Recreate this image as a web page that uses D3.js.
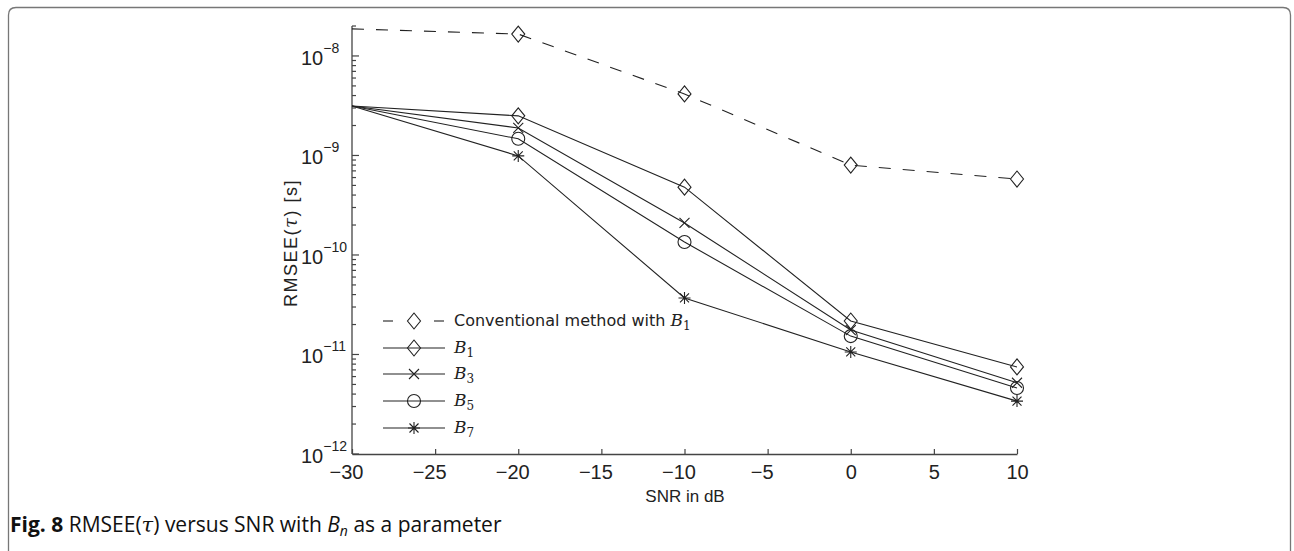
<!DOCTYPE html>
<html>
<head>
<meta charset="utf-8">
<script src="https://cdn.jsdelivr.net/npm/d3@7"></script>
<style>
  body { margin: 0; background: #fff; }
  svg { display: block; }
</style>
</head>
<body>
<div id="chart"></div>
<script>
// SNR points (dB)
const snr = [-30, -20, -10, 0, 10];

// RMSEE(tau) in seconds
const conventionalB1 = [1.87e-8, 1.66e-8, 4.15e-9, 8.0e-10, 5.8e-10];
const seriesB1 = [3.14e-9, 2.5e-9, 4.8e-10, 2.17e-11, 7.5e-12];
const seriesB3 = [3.14e-9, 1.89e-9, 2.1e-10, 1.76e-11, 5.2e-12];
const seriesB5 = [3.14e-9, 1.47e-9, 1.35e-10, 1.53e-11, 4.6e-12];
const seriesB7 = [3.14e-9, 9.9e-10, 3.7e-11, 1.06e-11, 3.4e-12];

const xTicks = [-30, -25, -20, -15, -10, -5, 0, 5, 10];
const yDecades = [-12, -11, -10, -9, -8];

const series = [
  {name: "conv", values: conventionalB1, marker: "diamond", dashed: true},
  {name: "B1", sub: "1", values: seriesB1, marker: "diamond"},
  {name: "B3", sub: "3", values: seriesB3, marker: "x"},
  {name: "B5", sub: "5", values: seriesB5, marker: "circle"},
  {name: "B7", sub: "7", values: seriesB7, marker: "star"}
];

const W = 1294, H = 551;
const ink = "#222";
const axisInk = "#444";
const helv = "Liberation Sans, Arial, sans-serif";

const svg = d3.select("#chart").append("svg")
  .attr("width", W)
  .attr("height", H);

// figure frame (rounded box running off the bottom)
svg.append("path")
  .attr("d", "M8.5,560 L8.5,15 Q8.5,7.5 16,7.5 L1283,7.5 Q1290.5,7.5 1290.5,15 L1290.5,560")
  .attr("fill", "none")
  .attr("stroke", "#777")
  .attr("stroke-width", 1.3);

const x = d3.scaleLinear().domain([-30, 10]).range([352, 1017]);
const y = d3.scaleLog().domain([1e-12, 2e-8]).range([454, 26]);

// x axis, ticks pointing in
const xAxis = svg.append("g")
  .attr("transform", "translate(0,454)")
  .call(d3.axisBottom(x).tickValues(xTicks).tickSizeInner(-5).tickSizeOuter(0)
    .tickFormat(d => d < 0 ? "\u2212" + Math.abs(d) : d));
xAxis.select(".domain").attr("stroke", axisInk).attr("stroke-width", 1.3);
xAxis.selectAll(".tick line").attr("stroke", axisInk).attr("stroke-width", 1.2);
xAxis.selectAll(".tick text")
  .attr("y", 25)
  .attr("dy", 0)
  .attr("dx", d => d < 0 ? -6 : 0)
  .attr("fill", ink)
  .style("font-family", helv)
  .style("font-size", "20px");

// y axis: major decades + minor ticks
const yAxisG = svg.append("g").attr("transform", "translate(352,0)");
yAxisG.append("line")
  .attr("x1", 0).attr("x2", 0)
  .attr("y1", y(2e-8)).attr("y2", y(1e-12))
  .attr("stroke", axisInk).attr("stroke-width", 1.3);

const allTicks = y.ticks().filter(v => v <= 2e-8 * 1.0001);
yAxisG.selectAll("line.tk")
  .data(allTicks)
  .join("line")
  .attr("class", "tk")
  .attr("x1", 0)
  .attr("x2", d => Math.abs(Math.log10(d) - Math.round(Math.log10(d))) < 1e-6 ? 7 : 4)
  .attr("y1", d => y(d)).attr("y2", d => y(d))
  .attr("stroke", axisInk).attr("stroke-width", 1.2);

const yLab = yAxisG.selectAll("text.lab")
  .data(yDecades)
  .join("text")
  .attr("class", "lab")
  .attr("x", -51)
  .attr("y", d => y(Math.pow(10, d)) + 9)
  .attr("text-anchor", "start")
  .attr("fill", ink)
  .style("font-family", helv)
  .style("font-size", "20px");
yLab.append("tspan").text("10");
yLab.append("tspan")
  .attr("dy", -12)
  .style("font-size", "14px")
  .text(d => "\u2212" + Math.abs(d));

// axis titles
svg.append("text")
  .attr("x", 685).attr("y", 502)
  .attr("text-anchor", "middle")
  .attr("fill", ink)
  .style("font-family", helv)
  .style("font-size", "17px")
  .text("SNR in dB");

const yt = svg.append("text")
  .attr("transform", "translate(297,243) rotate(-90)")
  .attr("text-anchor", "middle")
  .attr("fill", ink)
  .style("font-family", helv)
  .style("font-size", "18px")
  .style("letter-spacing", "1.5px");
yt.append("tspan").text("RMSEE(");
yt.append("tspan").style("font-family", "DejaVu Serif, serif").style("font-style", "italic").text("\u03c4");
yt.append("tspan").text(") [s]");

// markers
function drawMarker(g, type, cx, cy) {
  let m;
  if (type === "diamond") {
    m = g.append("path").attr("d", `M${cx},${cy - 8}L${cx + 6.5},${cy}L${cx},${cy + 8}L${cx - 6.5},${cy}Z`);
  } else if (type === "circle") {
    m = g.append("circle").attr("cx", cx).attr("cy", cy).attr("r", 6.5);
  } else if (type === "x") {
    const s = 5;
    m = g.append("path").attr("d", `M${cx - s},${cy - s}L${cx + s},${cy + s}M${cx - s},${cy + s}L${cx + s},${cy - s}`);
  } else {
    const s = 6, d = 4.5;
    m = g.append("path").attr("d",
      `M${cx},${cy - s}L${cx},${cy + s}M${cx - s},${cy}L${cx + s},${cy}` +
      `M${cx - d},${cy - d}L${cx + d},${cy + d}M${cx - d},${cy + d}L${cx + d},${cy - d}`);
  }
  m.attr("fill", "none").attr("stroke", ink).attr("stroke-width", 1.1);
}

const line = d3.line().x(d => x(d[0])).y(d => y(d[1]));

series.forEach(s => {
  const pts = snr.map((v, i) => [v, s.values[i]]);
  const g = svg.append("g");
  g.append("path")
    .attr("d", line(pts))
    .attr("fill", "none")
    .attr("stroke", ink)
    .attr("stroke-width", 1.1)
    .attr("stroke-dasharray", s.dashed ? "12,12" : null);
  // no marker is drawn at the axis (-30 dB)
  pts.filter(p => p[0] > -30).forEach(p => drawMarker(g, s.marker, x(p[0]), y(p[1])));
});

// legend
const lg = svg.append("g");
const legY = [321, 348, 374, 401, 428];
series.forEach((s, i) => {
  const ly = legY[i];
  if (s.dashed) {
    lg.append("line").attr("x1", 383).attr("x2", 393).attr("y1", ly).attr("y2", ly)
      .attr("stroke", ink).attr("stroke-width", 1.1);
    lg.append("line").attr("x1", 434).attr("x2", 444).attr("y1", ly).attr("y2", ly)
      .attr("stroke", ink).attr("stroke-width", 1.1);
  } else {
    lg.append("line").attr("x1", 383).attr("x2", 445).attr("y1", ly).attr("y2", ly)
      .attr("stroke", ink).attr("stroke-width", 1.1);
  }
  drawMarker(lg, s.marker, 414, ly);
  const t = lg.append("text")
    .attr("x", 454).attr("y", ly + 5)
    .attr("fill", ink)
    .style("font-size", "16px");
  if (s.dashed) {
    t.append("tspan").style("font-family", "DejaVu Sans, sans-serif").text("Conventional method with ");
  }
  t.append("tspan").style("font-family", "DejaVu Serif, serif").style("font-style", "italic")
    .style("font-size", "17px").text("B");
  t.append("tspan").style("font-family", "DejaVu Serif, serif").style("font-size", "12px")
    .attr("dy", 4).text(s.dashed ? "1" : s.sub);
});

// caption
const cap = svg.append("text")
  .attr("x", 10).attr("y", 532)
  .attr("fill", "#111")
  .style("font-family", "Open Sans, Noto Sans, sans-serif")
  .style("font-size", "21px");
cap.append("tspan").style("font-weight", "bold").text("Fig. 8");
cap.append("tspan").text(" RMSEE(");
cap.append("tspan").style("font-family", "DejaVu Serif, serif").style("font-style", "italic").text("\u03c4");
cap.append("tspan").text(") versus SNR with ");
cap.append("tspan").style("font-style", "italic").text("B");
cap.append("tspan").style("font-style", "italic").style("font-size", "14px").attr("dy", 4).text("n");
cap.append("tspan").attr("dy", -4).text(" as a parameter");
</script>
</body>
</html>
